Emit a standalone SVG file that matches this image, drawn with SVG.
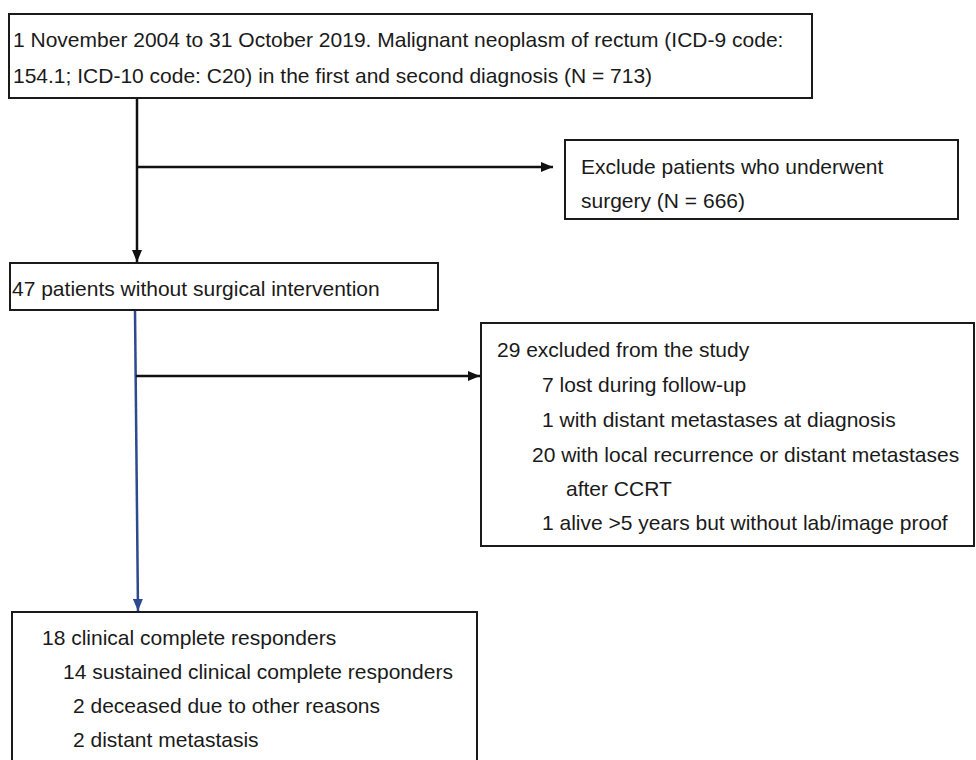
<svg xmlns="http://www.w3.org/2000/svg" width="976" height="760" viewBox="0 0 976 760">
<defs>
<style>
.box{fill:#fff;stroke:#1a1a1a;stroke-width:2}
.t{font-family:"Liberation Sans",Arial,sans-serif;font-size:21px;fill:#1a1a1a}
.ln{stroke:#111;stroke-width:2.5;fill:none}
.bl{stroke:#2d4a8e;stroke-width:2.5;fill:none}
</style>
<marker id="ah" viewBox="0 0 12 10" refX="12" refY="5" markerWidth="12" markerHeight="10" markerUnits="userSpaceOnUse" orient="auto"><path d="M0,0 L12,5 L0,10 z" fill="#111"/></marker>
<marker id="ahb" viewBox="0 0 12 10" refX="12" refY="5" markerWidth="12" markerHeight="10" markerUnits="userSpaceOnUse" orient="auto"><path d="M0,0 L12,5 L0,10 z" fill="#2d4a8e"/></marker>
</defs>
<rect width="976" height="760" fill="#fff"/>
<g id="connectors">
<line class="ln" x1="137" y1="98" x2="137" y2="262" marker-end="url(#ah)"/>
<line class="ln" x1="137" y1="167" x2="553" y2="167" marker-end="url(#ah)"/>
<line class="bl" x1="135" y1="310" x2="138" y2="611" marker-end="url(#ahb)"/>
<line class="ln" x1="136" y1="376" x2="480" y2="376" marker-end="url(#ah)"/>
</g>
<g id="n1">
<rect class="box" x="9" y="14" width="803" height="84"/>
<text class="t" x="13" y="47">1 November 2004 to 31 October 2019. Malignant neoplasm of rectum (ICD-9 code:</text>
<text class="t" x="13" y="83">154.1; ICD-10 code: C20) in the first and second diagnosis (N = 713)</text>
</g>
<g id="n2">
<rect class="box" x="565" y="140" width="393" height="79"/>
<text class="t" x="581" y="174">Exclude patients who underwent</text>
<text class="t" x="581" y="208">surgery (N = 666)</text>
</g>
<g id="n3">
<rect class="box" x="10" y="263" width="428" height="47"/>
<text class="t" x="12" y="296">47 patients without surgical intervention</text>
</g>
<g id="n4">
<rect class="box" x="481" y="323" width="493" height="223"/>
<text class="t" x="497" y="357">29 excluded from the study</text>
<text class="t" x="542" y="392">7 lost during follow-up</text>
<text class="t" x="542" y="427">1 with distant metastases at diagnosis</text>
<text class="t" x="532" y="462">20 with local recurrence or distant metastases</text>
<text class="t" x="566" y="496">after CCRT</text>
<text class="t" x="542" y="530">1 alive &gt;5 years but without lab/image proof</text>
</g>
<g id="n5">
<rect class="box" x="12" y="612" width="465" height="160"/>
<text class="t" x="42" y="645">18 clinical complete responders</text>
<text class="t" x="63" y="679">14 sustained clinical complete responders</text>
<text class="t" x="73" y="713">2 deceased due to other reasons</text>
<text class="t" x="73" y="747">2 distant metastasis</text>
</g>
</svg>
